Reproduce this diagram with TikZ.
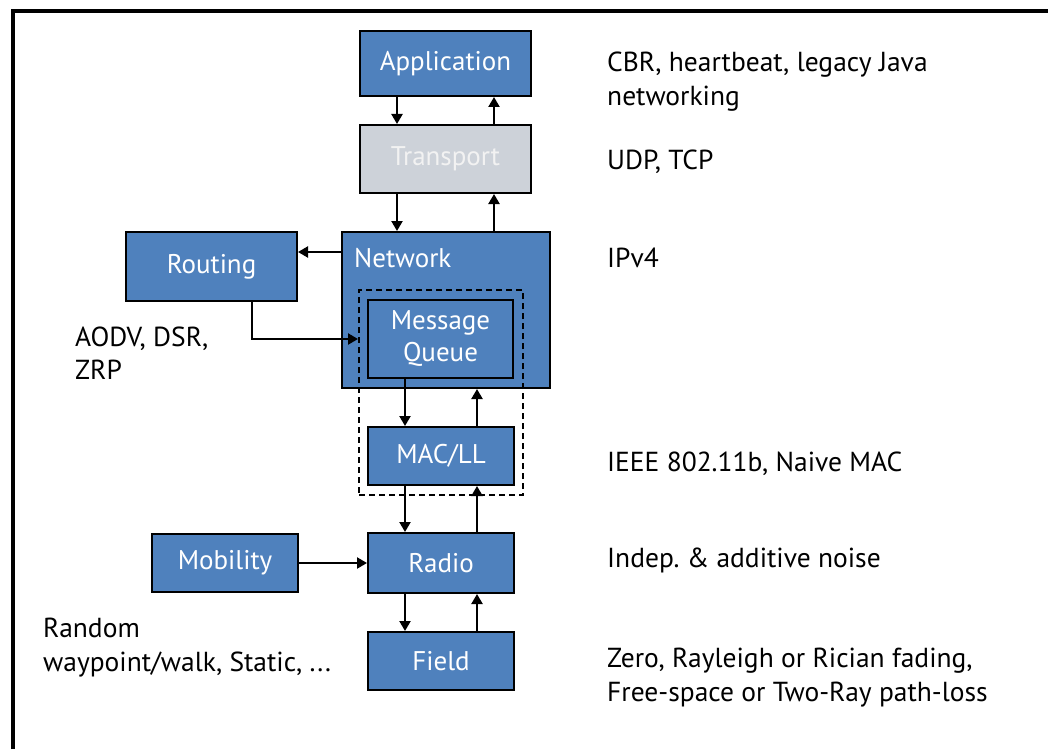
\documentclass[tikz,border=0pt]{standalone}
\usepackage{fontspec}
\setmainfont{PT Sans}
\usetikzlibrary{arrows.meta}

\definecolor{layerblue}{HTML}{4F81BD}
\definecolor{layergray}{HTML}{CDD2D9}
\definecolor{layertext}{HTML}{F2F2F2}

\tikzset{
  layer/.style={draw=black,line width=2pt,fill=layerblue,text=white,align=center,
    inner sep=0pt,font=\fontsize{27}{32}\selectfont},
  note/.style={anchor=base west,inner sep=0pt,font=\fontsize{27.5}{32}\selectfont},
  flow/.style={line width=2.2pt,-{Triangle[width=11pt,length=10pt]}}
}

\begin{document}
\begin{tikzpicture}[x=1pt,y=-1pt]
\path[use as bounding box] (0,0) rectangle (1048,749);
% frame
\draw[line width=4pt] (12.5,749) -- (12.5,11) -- (1048,11);

% protocol stack
\node[layer,minimum width=171,minimum height=65] (app) at (445.5,63.5) {Application};
\node[layer,fill=layergray,text=layertext,minimum width=171,minimum height=68] (trans) at (445.5,159) {Transport};
\node[layer,minimum width=208,minimum height=156] (net) at (446,310) {};
\node[anchor=base west,inner sep=0pt,text=white,font=\fontsize{27}{32}\selectfont] (netlbl) at (354,267) {Network};
\node[draw=black,line width=2pt,dash pattern=on 6pt off 4pt,minimum width=164,minimum height=205,inner sep=0pt] (llbox) at (441,392.5) {};
\node[layer,line width=1.5pt,minimum width=145,minimum height=78] (mq) at (440.5,339) {Message\\Queue};
\node[layer,minimum width=146,minimum height=58] (mac) at (441,456) {MAC/LL};
\node[layer,minimum width=146,minimum height=60] (radio) at (441,563) {Radio};
\node[layer,minimum width=146,minimum height=58] (field) at (441,661) {Field};
\node[layer,minimum width=171,minimum height=69] (rout) at (211.5,266.5) {Routing};
\node[layer,minimum width=146,minimum height=58] (mob) at (225,563) {Mobility};

% up and down links
\draw[flow] ([xshift=-48.5pt]app.south) -- ([xshift=-48.5pt]trans.north);
\draw[flow] ([xshift=48.5pt]trans.north) -- ([xshift=48.5pt]app.south);
\draw[flow] ([xshift=-48.5pt]trans.south) -- ([xshift=-48.5pt]trans.south |- net.north);
\draw[flow] ([xshift=48.5pt]trans.south |- net.north) -- ([xshift=48.5pt]trans.south);
\draw[flow] ([xshift=-36pt]mac.north |- mq.south) -- ([xshift=-36pt]mac.north);
\draw[flow] ([xshift=36pt]mac.north) -- ([xshift=36pt]mac.north |- net.south);
\draw[flow] ([xshift=-36pt]mac.south) -- ([xshift=-36pt]radio.north);
\draw[flow] ([xshift=36pt]radio.north) -- ([xshift=36pt]mac.south);
\draw[flow] ([xshift=-36pt]radio.south) -- ([xshift=-36pt]field.north);
\draw[flow] ([xshift=36pt]field.north) -- ([xshift=36pt]radio.south);

% side modules
\draw[flow] ([yshift=14.5pt]rout.east -| net.west) -- ([yshift=14.5pt]rout.east);
\draw[flow] ([xshift=40.5pt]rout.south) |- (llbox.west |- mq.west);
\draw[flow] (mob.east) -- (radio.west);

% notes
\node[note] (n1) at (607,72) {CBR, heartbeat, legacy Java};
\node[note] (n2) at (607,106) {networking};
\node[note] (n3) at (607,169) {UDP, TCP};
\node[note] (n4) at (607,267) {IPv4};
\node[note] (n5) at (607,471) {IEEE 802.11b, Naive MAC};
\node[note] (n6) at (607,567) {Indep.\ \& additive noise};
\node[note] (n7) at (607,667) {Zero, Rayleigh or Rician fading,};
\node[note] (n8) at (607,701) {Free-space or Two-Ray path-loss};
\node[note] (n9) at (75,346) {AODV, DSR,};
\node[note] (n10) at (75,379) {ZRP};
\node[note] (n11) at (43,637) {Random};
\node[note] (n12) at (43,671) {waypoint/walk, Static, ...};
\end{tikzpicture}
\end{document}
